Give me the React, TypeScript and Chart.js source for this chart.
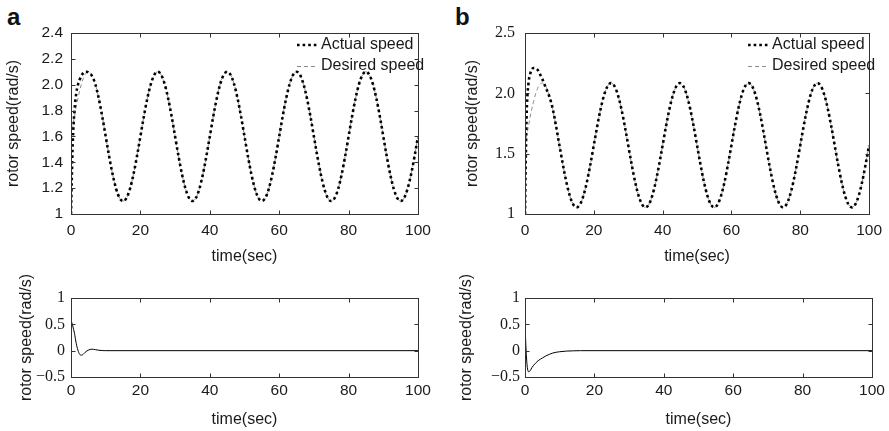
import React, { useEffect, useRef } from "react";
import { Chart, registerables } from "chart.js";

Chart.register(...registerables);

// ---------- tick values and labels ----------
const timeTicks = [0, 20, 40, 60, 80, 100];
const timeTickLabels = ["0", "20", "40", "60", "80", "100"];
const speedTicksA = [1, 1.2, 1.4, 1.6, 1.8, 2.0, 2.2, 2.4];
const speedTickLabelsA = ["1", "1.2", "1.4", "1.6", "1.8", "2.0", "2.2", "2.4"];
const speedTicksB = [1, 1.5, 2.0, 2.5];
const speedTickLabelsB = ["1", "1.5", "2.0", "2.5"];
const errorTicks = [-0.5, 0, 0.5, 1];
const errorTickLabels = ["\u22120.5", "0", "0.5", "1"];

const panelLetters = ["a", "b"];
const legendLabels = ["Actual speed", "Desired speed"];
const xTitle = "time(sec)";
const yTitle = "rotor speed(rad/s)";

// ---------- series ----------
const speedTime = [
  0, 0.25, 0.5, 1, 1.5, 2, 2.5, 3, 3.5, 4, 4.5, 5,
  6, 7, 8, 9,
  10, 11, 12, 13, 14, 15, 16, 17, 18, 19,
  20, 21, 22, 23, 24, 25, 26, 27, 28, 29,
  30, 31, 32, 33, 34, 35, 36, 37, 38, 39,
  40, 41, 42, 43, 44, 45, 46, 47, 48, 49,
  50, 51, 52, 53, 54, 55, 56, 57, 58, 59,
  60, 61, 62, 63, 64, 65, 66, 67, 68, 69,
  70, 71, 72, 73, 74, 75, 76, 77, 78, 79,
  80, 81, 82, 83, 84, 85, 86, 87, 88, 89,
  90, 91, 92, 93, 94, 95, 96, 97, 98, 99,
  100,
];

const desiredA = [
  1.600, 1.639, 1.678, 1.755, 1.827, 1.894, 1.954, 2.005, 2.045, 2.076, 2.094, 2.100,
  2.076, 2.005, 1.894, 1.755,
  1.600, 1.445, 1.306, 1.195, 1.124, 1.100, 1.124, 1.195, 1.306, 1.445,
  1.600, 1.755, 1.894, 2.005, 2.076, 2.100, 2.076, 2.005, 1.894, 1.755,
  1.600, 1.445, 1.306, 1.195, 1.124, 1.100, 1.124, 1.195, 1.306, 1.445,
  1.600, 1.755, 1.894, 2.005, 2.076, 2.100, 2.076, 2.005, 1.894, 1.755,
  1.600, 1.445, 1.306, 1.195, 1.124, 1.100, 1.124, 1.195, 1.306, 1.445,
  1.600, 1.755, 1.894, 2.005, 2.076, 2.100, 2.076, 2.005, 1.894, 1.755,
  1.600, 1.445, 1.306, 1.195, 1.124, 1.100, 1.124, 1.195, 1.306, 1.445,
  1.600, 1.755, 1.894, 2.005, 2.076, 2.100, 2.076, 2.005, 1.894, 1.755,
  1.600, 1.445, 1.306, 1.195, 1.124, 1.100, 1.124, 1.195, 1.306, 1.445,
  1.600,
];

const actualA = [
  1.000, 1.300, 1.550, 1.800, 1.930, 2.000, 2.040, 2.070, 2.090, 2.100, 2.100, 2.095,
  2.070, 2.005, 1.894, 1.755,
  1.600, 1.445, 1.306, 1.195, 1.124, 1.100, 1.124, 1.195, 1.306, 1.445,
  1.600, 1.755, 1.894, 2.005, 2.076, 2.100, 2.076, 2.005, 1.894, 1.755,
  1.600, 1.445, 1.306, 1.195, 1.124, 1.100, 1.124, 1.195, 1.306, 1.445,
  1.600, 1.755, 1.894, 2.005, 2.076, 2.100, 2.076, 2.005, 1.894, 1.755,
  1.600, 1.445, 1.306, 1.195, 1.124, 1.100, 1.124, 1.195, 1.306, 1.445,
  1.600, 1.755, 1.894, 2.005, 2.076, 2.100, 2.076, 2.005, 1.894, 1.755,
  1.600, 1.445, 1.306, 1.195, 1.124, 1.100, 1.124, 1.195, 1.306, 1.445,
  1.600, 1.755, 1.894, 2.005, 2.076, 2.100, 2.076, 2.005, 1.894, 1.755,
  1.600, 1.445, 1.306, 1.195, 1.124, 1.100, 1.124, 1.195, 1.306, 1.445,
  1.600,
];

const desiredB = [
  1.570, 1.610, 1.651, 1.729, 1.804, 1.873, 1.934, 1.987, 2.029, 2.060, 2.079, 2.085,
  2.060, 1.987, 1.873, 1.729,
  1.570, 1.411, 1.267, 1.153, 1.080, 1.055, 1.080, 1.153, 1.267, 1.411,
  1.570, 1.729, 1.873, 1.987, 2.060, 2.085, 2.060, 1.987, 1.873, 1.729,
  1.570, 1.411, 1.267, 1.153, 1.080, 1.055, 1.080, 1.153, 1.267, 1.411,
  1.570, 1.729, 1.873, 1.987, 2.060, 2.085, 2.060, 1.987, 1.873, 1.729,
  1.570, 1.411, 1.267, 1.153, 1.080, 1.055, 1.080, 1.153, 1.267, 1.411,
  1.570, 1.729, 1.873, 1.987, 2.060, 2.085, 2.060, 1.987, 1.873, 1.729,
  1.570, 1.411, 1.267, 1.153, 1.080, 1.055, 1.080, 1.153, 1.267, 1.411,
  1.570, 1.729, 1.873, 1.987, 2.060, 2.085, 2.060, 1.987, 1.873, 1.729,
  1.570, 1.411, 1.267, 1.153, 1.080, 1.055, 1.080, 1.153, 1.267, 1.411,
  1.570,
];

const actualB = [
  1.000, 1.500, 1.850, 2.080, 2.160, 2.200, 2.210, 2.210, 2.200, 2.180, 2.150, 2.120,
  2.050, 1.980, 1.880, 1.732,
  1.570, 1.411, 1.267, 1.153, 1.080, 1.055, 1.080, 1.153, 1.267, 1.411,
  1.570, 1.729, 1.873, 1.987, 2.060, 2.085, 2.060, 1.987, 1.873, 1.729,
  1.570, 1.411, 1.267, 1.153, 1.080, 1.055, 1.080, 1.153, 1.267, 1.411,
  1.570, 1.729, 1.873, 1.987, 2.060, 2.085, 2.060, 1.987, 1.873, 1.729,
  1.570, 1.411, 1.267, 1.153, 1.080, 1.055, 1.080, 1.153, 1.267, 1.411,
  1.570, 1.729, 1.873, 1.987, 2.060, 2.085, 2.060, 1.987, 1.873, 1.729,
  1.570, 1.411, 1.267, 1.153, 1.080, 1.055, 1.080, 1.153, 1.267, 1.411,
  1.570, 1.729, 1.873, 1.987, 2.060, 2.085, 2.060, 1.987, 1.873, 1.729,
  1.570, 1.411, 1.267, 1.153, 1.080, 1.055, 1.080, 1.153, 1.267, 1.411,
  1.570,
];

const errorTimeA = [0, 0.5, 1, 1.5, 2, 2.5, 3, 3.5, 4, 5, 6, 7, 8, 9, 10, 100];
const errorA = [0.58, 0.47, 0.33, 0.14, 0.01, -0.07, -0.085, -0.07, -0.035, 0.01, 0.028, 0.02, 0.008, 0.002, 0, 0];

const errorTimeB = [0, 0.25, 0.5, 0.75, 1, 1.5, 2, 3, 4, 5, 6, 7, 8, 9, 10, 12, 14, 16, 100];
const errorB = [0.55, 0.1, -0.2, -0.35, -0.4, -0.38, -0.32, -0.24, -0.18, -0.14, -0.1, -0.07, -0.045, -0.03, -0.02, -0.008, -0.003, 0, 0];

// ---------- styling ----------
const SANS = '"Liberation Sans", Arial, sans-serif';
const SERIF = '"Liberation Serif", "Times New Roman", serif';
const TEXT = "#1a1a1a";
const FRAME = "#333333";

const toPoints = (xs: number[], ys: number[]) => xs.map((x, i) => ({ x, y: ys[i] }));

const actualStyle = {
  borderColor: "#000000",
  borderWidth: 2.6,
  borderDash: [2.6, 3],
};
const desiredStyle = {
  borderColor: "#8a8a8a",
  borderWidth: 1,
  borderDash: [4, 3],
};
const errorStyle = {
  borderColor: "#000000",
  borderWidth: 1,
};

type PanelProps = {
  left: number;
  top: number;
  width: number;
  height: number;
  datasets: any[];
  yMin: number;
  yMax: number;
  yTicks: number[];
  yLabels: string[];
  yFont: string;
  yTickPad: number;
  yTitlePad: number;
  yAxisWidth: number;
  xAxisHeight: number;
  xTickPad: number;
  xTitlePad: number;
  padTop: number;
  padRight: number;
  legend: boolean;
};

function makeFramePlugin(legend: boolean) {
  return {
    id: "frame",
    afterDatasetsDraw(chart: any) {
      const { ctx, chartArea: a, scales } = chart;
      const xs = scales.x;
      const ys = scales.y;
      const L = Math.round(a.left) + 0.5;
      const R = Math.round(a.right) + 0.5;
      const T = Math.round(a.top) + 0.5;
      const B = Math.round(a.bottom) + 0.5;
      ctx.save();
      ctx.strokeStyle = FRAME;
      ctx.lineWidth = 1;
      ctx.setLineDash([]);
      ctx.strokeRect(L, T, R - L, B - T);
      const len = 4;
      ctx.beginPath();
      for (const t of xs.ticks) {
        const px = Math.round(xs.getPixelForValue(t.value)) + 0.5;
        ctx.moveTo(px, B);
        ctx.lineTo(px, B - len);
        ctx.moveTo(px, T);
        ctx.lineTo(px, T + len);
      }
      for (const t of ys.ticks) {
        const py = Math.round(ys.getPixelForValue(t.value)) + 0.5;
        ctx.moveTo(L, py);
        ctx.lineTo(L + len, py);
        ctx.moveTo(R, py);
        ctx.lineTo(R - len, py);
      }
      ctx.stroke();

      if (legend) {
        const sx = a.right - 121;
        const ex = a.right - 101;
        const tx = a.right - 97;
        const y1 = a.top + 12;
        const y2 = a.top + 33;
        ctx.lineCap = "butt";
        ctx.strokeStyle = actualStyle.borderColor;
        ctx.lineWidth = actualStyle.borderWidth;
        ctx.setLineDash(actualStyle.borderDash);
        ctx.beginPath();
        ctx.moveTo(sx, y1);
        ctx.lineTo(ex, y1);
        ctx.stroke();
        ctx.strokeStyle = desiredStyle.borderColor;
        ctx.lineWidth = desiredStyle.borderWidth;
        ctx.setLineDash(desiredStyle.borderDash);
        ctx.beginPath();
        ctx.moveTo(sx, y2 + 0.5);
        ctx.lineTo(ex, y2 + 0.5);
        ctx.stroke();
        ctx.setLineDash([]);
        ctx.fillStyle = TEXT;
        ctx.font = `16px ${SANS}`;
        ctx.textAlign = "left";
        ctx.textBaseline = "middle";
        ctx.fillText(legendLabels[0], tx, y1);
        ctx.fillText(legendLabels[1], tx, y2);
      }
      ctx.restore();
    },
  };
}

function Panel(p: PanelProps) {
  const ref = useRef<HTMLCanvasElement | null>(null);
  useEffect(() => {
    if (!ref.current) return;
    const chart = new Chart(ref.current, {
      type: "line",
      data: { datasets: p.datasets },
      options: {
        responsive: false,
        animation: false,
        events: [],
        layout: { padding: { left: 0, top: p.padTop, right: p.padRight, bottom: 0 } },
        plugins: { legend: { display: false }, tooltip: { enabled: false } },
        elements: { point: { radius: 0 } },
        scales: {
          x: {
            type: "linear",
            min: 0,
            max: 100,
            afterBuildTicks: (s: any) => {
              s.ticks = timeTicks.map((v) => ({ value: v }));
            },
            afterFit: (s: any) => {
              s.height = p.xAxisHeight;
            },
            grid: { display: false, drawTicks: false },
            border: { display: false },
            ticks: {
              autoSkip: false,
              maxRotation: 0,
              padding: p.xTickPad,
              color: TEXT,
              font: { family: SANS, size: 15.5 },
              callback: (v: any) => timeTickLabels[timeTicks.indexOf(Number(v))] ?? "",
            },
            title: {
              display: true,
              text: xTitle,
              color: TEXT,
              font: { family: SANS, size: 16 },
              padding: { top: 0, bottom: p.xTitlePad },
            },
          },
          y: {
            type: "linear",
            min: p.yMin,
            max: p.yMax,
            afterBuildTicks: (s: any) => {
              s.ticks = p.yTicks.map((v) => ({ value: v }));
            },
            afterFit: (s: any) => {
              s.width = p.yAxisWidth;
            },
            grid: { display: false, drawTicks: false },
            border: { display: false },
            ticks: {
              autoSkip: false,
              padding: p.yTickPad,
              color: TEXT,
              font: { family: p.yFont, size: p.yFont === SERIF ? 16 : 15.5 },
              callback: (v: any) => {
                const idx = p.yTicks.findIndex((t) => Math.abs(t - Number(v)) < 1e-9);
                return idx >= 0 ? p.yLabels[idx] : "";
              },
            },
            title: {
              display: true,
              text: yTitle,
              color: TEXT,
              font: { family: SANS, size: 16 },
              padding: { top: p.yTitlePad, bottom: 0 },
            },
          },
        },
      },
      plugins: [makeFramePlugin(p.legend)],
    } as any);
    return () => chart.destroy();
  }, []);
  return (
    <canvas
      ref={ref}
      width={p.width}
      height={p.height}
      style={{ position: "absolute", left: p.left, top: p.top, width: p.width, height: p.height }}
    />
  );
}

const speedDatasets = (actual: number[], desired: number[]) => [
  {
    label: legendLabels[0],
    data: toPoints(speedTime, actual),
    ...actualStyle,
    fill: false,
    pointRadius: 0,
    cubicInterpolationMode: "monotone",
  },
  {
    label: legendLabels[1],
    data: toPoints(speedTime, desired),
    ...desiredStyle,
    fill: false,
    pointRadius: 0,
    cubicInterpolationMode: "monotone",
  },
];

const errorDatasets = (t: number[], e: number[]) => [
  {
    label: "error",
    data: toPoints(t, e),
    ...errorStyle,
    fill: false,
    pointRadius: 0,
    cubicInterpolationMode: "monotone",
  },
];

const letterStyle = (left: number): React.CSSProperties => ({
  position: "absolute",
  left,
  top: 5,
  fontFamily: SANS,
  fontWeight: "bold",
  fontSize: 24,
  lineHeight: "24px",
  color: "#111",
});

export default function App() {
  return (
    <div
      style={{
        position: "absolute",
        left: 0,
        top: 0,
        width: 889,
        height: 431,
        background: "#ffffff",
        overflow: "hidden",
      }}
    >
      <div style={letterStyle(7)}>{panelLetters[0]}</div>
      <div style={letterStyle(455)}>{panelLetters[1]}</div>
      <Panel
        left={0}
        top={0}
        width={444}
        height={270}
        datasets={speedDatasets(actualA, desiredA)}
        yMin={1}
        yMax={2.4}
        yTicks={speedTicksA}
        yLabels={speedTickLabelsA}
        yFont={SANS}
        yTickPad={8}
        yTitlePad={4}
        yAxisWidth={71}
        xAxisHeight={56}
        xTickPad={7}
        xTitlePad={3.4}
        padTop={33}
        padRight={26}
        legend={true}
      />
      <Panel
        left={444}
        top={0}
        width={445}
        height={270}
        datasets={speedDatasets(actualB, desiredB)}
        yMin={1}
        yMax={2.5}
        yTicks={speedTicksB}
        yLabels={speedTickLabelsB}
        yFont={SERIF}
        yTickPad={10}
        yTitlePad={19.4}
        yAxisWidth={81}
        xAxisHeight={56}
        xTickPad={7}
        xTitlePad={3.4}
        padTop={33}
        padRight={17}
        legend={true}
      />
      <Panel
        left={0}
        top={270}
        width={444}
        height={161}
        datasets={errorDatasets(errorTimeA, errorA)}
        yMin={-0.5}
        yMax={1}
        yTicks={errorTicks}
        yLabels={errorTickLabels}
        yFont={SERIF}
        yTickPad={6}
        yTitlePad={17.4}
        yAxisWidth={71}
        xAxisHeight={54}
        xTickPad={4}
        xTitlePad={1.4}
        padTop={28}
        padRight={26}
        legend={false}
      />
      <Panel
        left={444}
        top={270}
        width={445}
        height={161}
        datasets={errorDatasets(errorTimeB, errorB)}
        yMin={-0.5}
        yMax={1}
        yTicks={errorTicks}
        yLabels={errorTickLabels}
        yFont={SERIF}
        yTickPad={5}
        yTitlePad={13.4}
        yAxisWidth={81}
        xAxisHeight={54}
        xTickPad={4}
        xTitlePad={1.4}
        padTop={28}
        padRight={17}
        legend={false}
      />
    </div>
  );
}
